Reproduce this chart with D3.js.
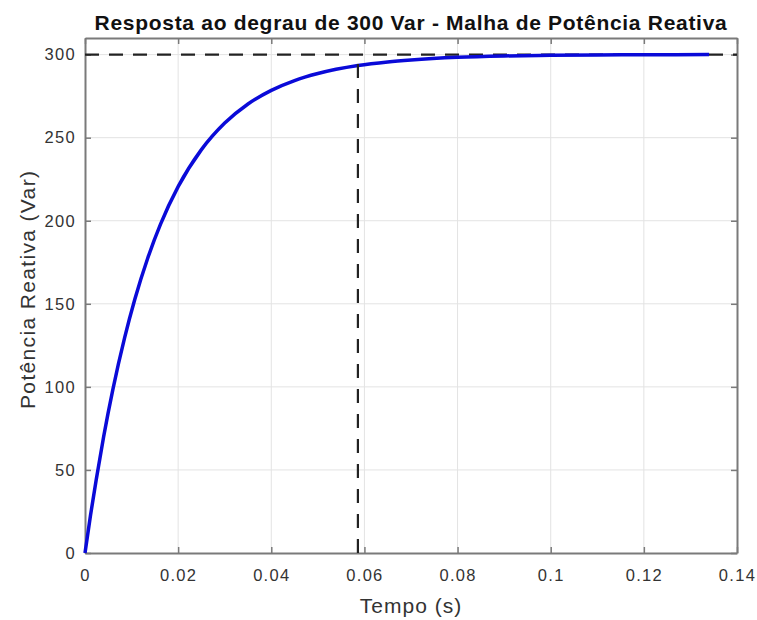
<!DOCTYPE html>
<html>
<head>
<meta charset="utf-8">
<script src="https://cdn.jsdelivr.net/npm/d3@7"></script>
<style>
  body { margin: 0; background: #fff; }
  svg { display: block; font-family: "Liberation Sans", Arial, Helvetica, sans-serif; }
  .grid line { stroke: #e3e3e3; stroke-width: 1; }
  .tick-label { fill: #333; font-size: 16.5px; letter-spacing: 1.3px; }
</style>
</head>
<body>
<svg id="chart" width="757" height="620"></svg>
<script>
// step response
var tempo = [0, 0.0012, 0.0024, 0.004, 0.006, 0.0085, 0.0107, 0.0135, 0.0162, 0.02, 0.025, 0.03, 0.035, 0.04, 0.045, 0.05, 0.0586, 0.065, 0.07, 0.08, 0.09, 0.1, 0.11, 0.12, 0.134];
var potencia = [0, 23, 44, 70, 98.7, 129.5, 152.7, 177.7, 197.8, 220.5, 242.8, 258.8, 270.3, 278.5, 284.4, 288.6, 293.4, 295.6, 296.8, 298.4, 299.2, 299.6, 299.8, 299.9, 300];
var referencia = 300;
var tempoAcomodacao = 0.0586;
var xTicks = [0, 0.02, 0.04, 0.06, 0.08, 0.1, 0.12, 0.14];
var yTicks = [0, 50, 100, 150, 200, 250, 300];

var svg = d3.select("#chart");
var margin = { left: 85, right: 20, top: 38, bottom: 67 };
var W = 757, H = 620;

var x = d3.scaleLinear().domain([0, 0.14]).range([margin.left, W - margin.right]);
var y = d3.scaleLinear().domain([0, 310]).range([H - margin.bottom, margin.top]);

svg.append("rect").attr("width", W).attr("height", H).attr("fill", "#fff");

// grid
var grid = svg.append("g").attr("class", "grid");
grid.selectAll(".gx").data(xTicks.slice(1, -1)).enter().append("line")
    .attr("x1", function (d) { return x(d); }).attr("x2", function (d) { return x(d); })
    .attr("y1", y.range()[0]).attr("y2", y.range()[1]);
grid.selectAll(".gy").data(yTicks.slice(1)).enter().append("line")
    .attr("y1", function (d) { return y(d); }).attr("y2", function (d) { return y(d); })
    .attr("x1", x.range()[0]).attr("x2", x.range()[1]);

// axes (ticks inside, MATLAB style)
var axisColor = "#7a7a7a";
function styleAxis(g) {
    g.selectAll(".domain").attr("stroke", axisColor).attr("stroke-width", 2);
    g.selectAll(".tick line").attr("stroke", axisColor).attr("stroke-width", 1.5);
    g.selectAll("text").attr("class", "tick-label").attr("font-size", null).attr("font-family", null);
}
var fmtX = function (d) { return d3.format("")(+d.toFixed(2)); };

svg.append("g").attr("transform", "translate(0," + y(0) + ")")
    .call(d3.axisBottom(x).tickValues(xTicks).tickFormat(fmtX).tickSizeInner(-6).tickSizeOuter(0).tickPadding(16))
    .call(styleAxis);
svg.append("g").attr("transform", "translate(0," + margin.top + ")")
    .call(d3.axisTop(x).tickValues(xTicks).tickFormat("").tickSizeInner(-6).tickSizeOuter(0))
    .call(styleAxis);
svg.append("g").attr("transform", "translate(" + margin.left + ",0)")
    .call(d3.axisLeft(y).tickValues(yTicks).tickSizeInner(-6).tickSizeOuter(0).tickPadding(9))
    .call(styleAxis);
svg.append("g").attr("transform", "translate(" + (W - margin.right) + ",0)")
    .call(d3.axisRight(y).tickValues(yTicks).tickFormat("").tickSizeInner(-6).tickSizeOuter(0))
    .call(styleAxis);

// reference line at 300 Var
svg.append("line")
    .attr("x1", x(0)).attr("x2", x(0.14))
    .attr("y1", y(referencia)).attr("y2", y(referencia))
    .attr("stroke", "#222").attr("stroke-width", 2.2).attr("stroke-dasharray", "14,10");

// response curve
var line = d3.line()
    .x(function (d) { return x(d[0]); })
    .y(function (d) { return y(d[1]); })
    .curve(d3.curveMonotoneX);
svg.append("path")
    .datum(d3.zip(tempo, potencia))
    .attr("d", line)
    .attr("fill", "none").attr("stroke", "#0a0ad8").attr("stroke-width", 3.5);

// settling time marker
svg.append("line")
    .attr("x1", x(tempoAcomodacao)).attr("x2", x(tempoAcomodacao))
    .attr("y1", y(0)).attr("y2", y(referencia))
    .attr("stroke", "#222").attr("stroke-width", 2.2).attr("stroke-dasharray", "14,11");

// labels
var cx = (x.range()[0] + x.range()[1]) / 2;
svg.append("text").attr("x", cx).attr("y", 30).attr("text-anchor", "middle")
    .attr("font-size", 21).attr("font-weight", "bold").attr("fill", "#111")
    .attr("letter-spacing", 0.7)
    .text("Resposta ao degrau de 300 Var - Malha de Potência Reativa");
svg.append("text").attr("x", cx).attr("y", 613).attr("text-anchor", "middle")
    .attr("font-size", 21).attr("fill", "#333").attr("letter-spacing", 1)
    .text("Tempo (s)");
svg.append("text")
    .attr("transform", "translate(35,290) rotate(-90)")
    .attr("text-anchor", "middle").attr("font-size", 21).attr("fill", "#333")
    .attr("textLength", 238).attr("lengthAdjust", "spacing")
    .text("Potência Reativa (Var)");
</script>
</body>
</html>
